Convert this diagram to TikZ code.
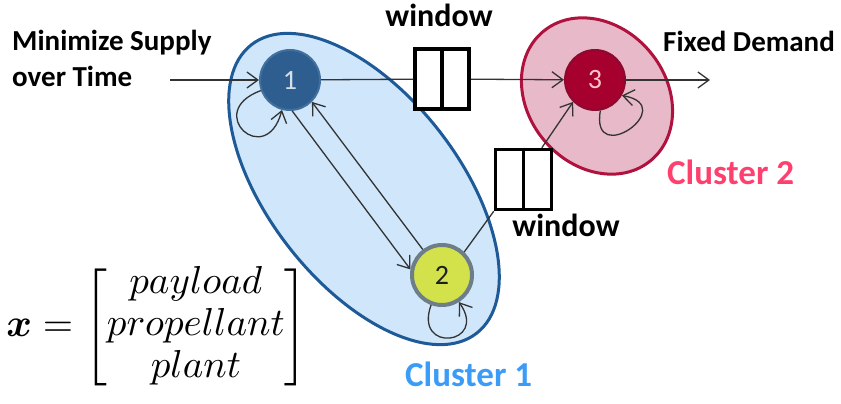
\documentclass[tikz,border=0pt]{standalone}
\usepackage{amsmath,amssymb}
\usepackage{fontspec}
\setmainfont{Carlito}
\usetikzlibrary{shapes.geometric,arrows.meta}

\definecolor{cloneFill}{HTML}{CFE6FB}
\definecolor{cloneLine}{HTML}{1E5A98}
\definecolor{cltwoFill}{HTML}{E8B9C8}
\definecolor{cltwoLine}{HTML}{B0123F}
\definecolor{nodeOne}{HTML}{2D5E8F}
\definecolor{nodeOneLine}{HTML}{41709F}
\definecolor{nodeTwo}{HTML}{D3E24A}
\definecolor{nodeTwoLine}{HTML}{6E7E88}
\definecolor{nodeThree}{HTML}{A6002F}
\definecolor{nodeThreeLine}{HTML}{8C0A30}
\definecolor{labOne}{HTML}{3A9CF7}
\definecolor{labTwo}{HTML}{FF406F}
\definecolor{wire}{HTML}{333333}

\tikzset{
  cluster/.style={ellipse, line width=3pt, inner sep=0pt},
  state/.style={circle, minimum size=60pt, inner sep=0pt, line width=2pt,
    font=\fontsize{28}{30}\selectfont},
  gate/.style={draw=black, fill=white, line width=3.5pt, minimum width=54pt,
    minimum height=60pt, inner sep=0pt},
  arr/.style={draw=wire, line width=1.3pt, -{Straight Barb[length=11pt,width=16pt]}},
  wireline/.style={draw=wire, line width=1.3pt},
  boldlab/.style={inner sep=0pt, font=\fontsize{29}{36}\selectfont\bfseries},
  winlab/.style={inner sep=0pt, font=\fontsize{32}{36}\selectfont\bfseries},
  clab/.style={inner sep=0pt, font=\fontsize{35}{40}\selectfont\bfseries}
}

\begin{document}
\begin{tikzpicture}[x=1pt,y=1pt]
\useasboundingbox (0,0) rectangle (841,404);

% clusters
\node[cluster, fill=cloneFill, draw=cloneLine, minimum width=366pt,
  minimum height=190pt, rotate=-52] (cl1) at (364,215) {};
\node[cluster, fill=cltwoFill, draw=cltwoLine, minimum width=168pt,
  minimum height=138pt, rotate=-50] (cl2) at (597,308) {};

% states
\node[state, fill=nodeOne, draw=nodeOneLine, text=white!80!nodeOne] (n1) at (290,324) {1};
\node[state, fill=nodeTwo, draw=nodeTwoLine, line width=4pt, text=black!75!nodeTwoLine] (n2) at (442,129) {2};
\node[state, fill=nodeThree, draw=nodeThreeLine, text=pink!90!white] (n3) at (595,324) {3};

% window gates
\node[gate] (g1) at (442,325) {};
\draw[line width=3.5pt] (g1.north) -- (g1.south);
\node[gate, minimum width=56pt] (g2) at (523.5,224.5) {};
\draw[line width=3.5pt] (g2.north) -- (g2.south);

% free ends
\coordinate (src) at (170,324);
\coordinate (dst) at (710,324);

% connectors
\draw[arr] (src) -- (n1);
\draw[wireline] (n1) -- (g1);
\draw[arr] (g1) -- (n3);
\draw[arr] (n3) -- (dst);
\draw[arr] (n1.274) -- (n2.170);
\draw[arr] (n2.127) -- (n1.315);
\draw[wireline] (n2.46) -- (g2.south west);
\draw[arr] (g2.60) -- (n3.225);

% self loops
\draw[arr] (n1.200) .. controls +(200:62) and +(255:62) .. (n1.255);
\draw[arr] (n2.250) .. controls +(250:52) and +(305:52) .. (n2.302);
\draw[arr] (n3.280) .. controls +(260:60) and +(350:60) .. (n3.330);

% labels
\node[boldlab, anchor=base west] (tin1) at (12,353) {Minimize Supply};
\node[boldlab, anchor=base west] (tin2) at (12,317) {over Time};
\node[winlab, anchor=base] (tw1) at (439,377) {window};
\node[winlab, anchor=base] (tw2) at (566,167) {window};
\node[boldlab, anchor=base west] (tout) at (663,352) {Fixed Demand};
\node[clab, anchor=base west, text=labTwo] (tc2) at (667,219) {Cluster 2};
\node[clab, anchor=base west, text=labOne] (tc1) at (405,17) {Cluster 1};

% state vector
\node[inner sep=0pt] (vec) at (157,77)
  {\scalebox{3.9}{\renewcommand{\arraystretch}{0.9}%
   $\boldsymbol{x}=\begin{bmatrix}payload\\propellant\\plant\end{bmatrix}$}};
\end{tikzpicture}
\end{document}
